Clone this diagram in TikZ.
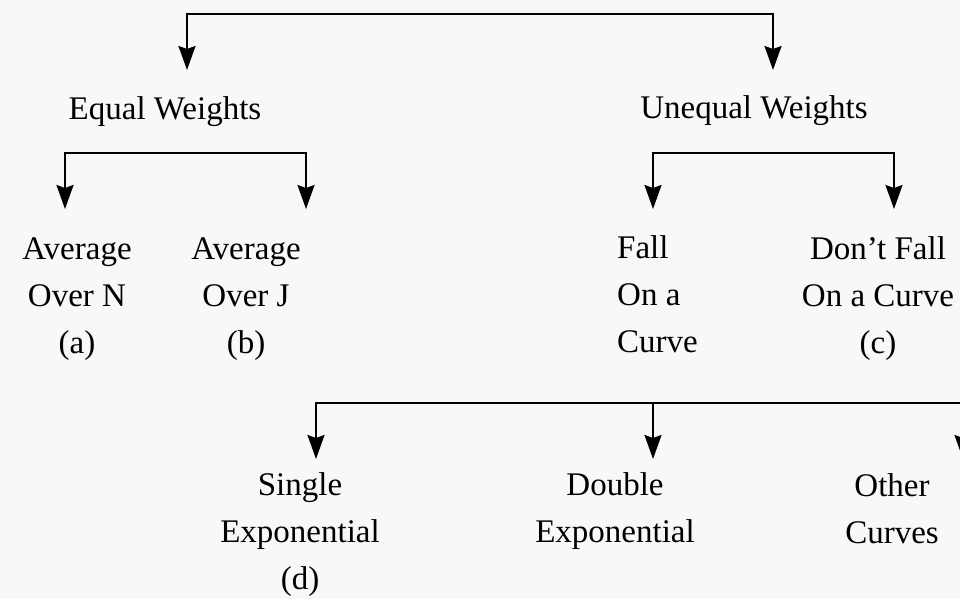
\documentclass[tikz,border=0pt]{standalone}
\usepackage{fontspec}
\setmainfont{Liberation Serif}
\usetikzlibrary{arrows.meta}
\definecolor{paper}{RGB}{248,247,250}

\begin{document}
\begin{tikzpicture}[
    x=1pt, y=-1pt,
    leaf/.style={align=center, inner sep=0pt, anchor=base, font=\fontsize{33}{47}\selectfont},
    arrow/.style={-{Stealth[length=24pt, width=17pt, inset=3pt]}, line width=2pt},
    twoarrow/.style={{Stealth[length=24pt, width=17pt, inset=3pt]}-{Stealth[length=24pt, width=17pt, inset=3pt]}, line width=2pt}
]
    \fill[paper] (0,0) rectangle (960,599);
    \useasboundingbox (0,0) rectangle (960,599);

    % labels (multi-line ones sit on their last baseline)
    \node[leaf] (equal) at (165,119) {Equal Weights};
    \node[leaf] (unequal) at (754,118) {Unequal Weights};
    \node[leaf] (avgn) at (77,353) {Average\\Over N\\(a)};
    \node[leaf] (avgj) at (246,353) {Average\\Over J\\(b)};
    \node[leaf, align=left, anchor=base west] (fall) at (617,352) {Fall\\On a\\Curve};
    \node[leaf] (nofall) at (878,353) {Don’t Fall\\On a Curve\\(c)};
    \node[leaf] (single) at (300,589) {Single\\Exponential\\(d)};
    \node[leaf] (double) at (615,542) {Double\\Exponential};
    \node[leaf] (other) at (892,543) {Other\\Curves};

    % bars and arrow tips
    \coordinate (root) at (480,14);
    \coordinate (tip_eq) at (187,70);
    \coordinate (tip_uneq) at (773,70);
    \coordinate (eq_bar) at (185,153);
    \coordinate (tip_avgn) at (65,209);
    \coordinate (tip_avgj) at (306,209);
    \coordinate (uneq_bar) at (773,153);
    \coordinate (tip_fall) at (653,209);
    \coordinate (tip_nofall) at (894,209);
    \coordinate (curve_bar) at (653,403);
    \coordinate (tip_single) at (316,459);
    \coordinate (tip_double) at (653,459);
    \coordinate (tip_other) at (963,459);

    \draw[twoarrow] (tip_eq) |- (root) -| (tip_uneq);
    \draw[twoarrow] (tip_avgn) |- (eq_bar) -| (tip_avgj);
    \draw[twoarrow] (tip_fall) |- (uneq_bar) -| (tip_nofall);
    \draw[twoarrow] (tip_single) |- (curve_bar) -| (tip_other);
    \draw[arrow] (curve_bar) -- (tip_double);
\end{tikzpicture}
\end{document}
